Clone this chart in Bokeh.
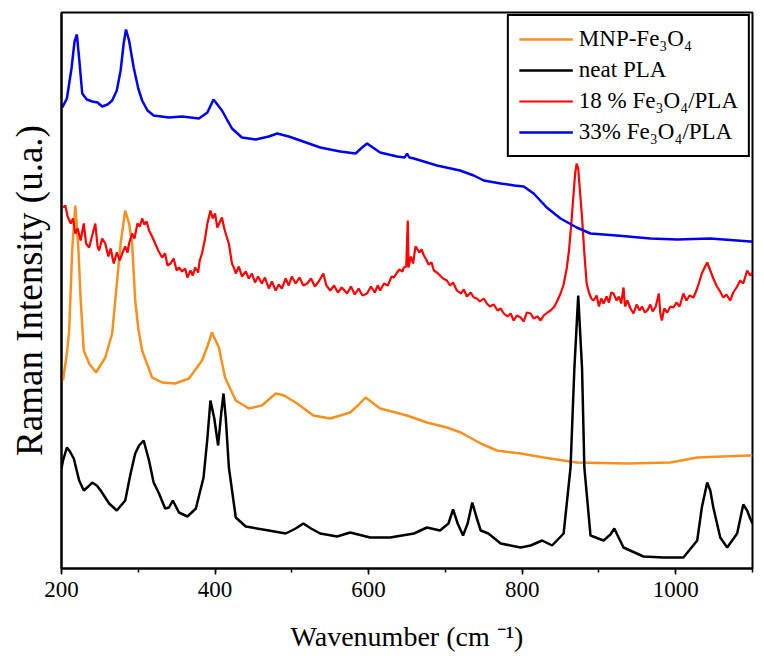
from bokeh.plotting import figure
from bokeh.models import Range1d, SingleIntervalTicker, FixedTicker, Legend, LegendItem
from bokeh.embed import file_html
from bokeh.resources import INLINE

# ---- data (wavenumber in cm-1, Raman intensity in arbitrary units, offset-stacked) ----
mnp_x = [202, 207, 210, 214, 218, 222, 225, 229, 236, 245, 257, 266, 270, 277, 283, 288, 292,
         296, 300, 305, 318, 331, 348, 366, 383, 390, 396, 405, 413, 427, 444, 461, 479, 490,
         507, 528, 550, 576, 586, 596, 615, 650, 676, 702, 720, 746, 767, 798, 828, 871, 937,
         993, 1028, 1060, 1097, 1100]
mnp_y = [188, 215, 238, 320, 363, 320, 268, 218, 205, 196, 211, 235, 268, 325, 358, 345, 325,
         268, 240, 218, 191, 186, 185, 190, 208, 222, 236, 221, 191, 168, 160, 163, 175, 173,
         165, 153, 150, 156, 163, 171, 160, 153, 146, 141, 136, 125, 118, 115, 111, 106, 105,
         106, 111, 112, 113, 113]

pla_x = [200, 202, 207, 211, 216, 223, 229, 235, 240, 246, 251, 262, 272, 283, 290, 296, 301,
         307, 314, 320, 327, 335, 340, 345, 353, 364, 375, 385, 390, 394, 399, 404, 408, 411,
         414, 418, 427, 440, 470, 492, 505, 515, 525, 537, 559, 576, 602, 628, 659, 676, 693,
         704, 710, 716, 723, 729, 735, 741, 746, 756, 772, 798, 811, 826, 839, 854, 863, 868,
         873, 878, 881, 889, 906, 915, 920, 925, 932, 958, 984, 1010, 1028, 1034, 1041, 1045,
         1049, 1058, 1067, 1080, 1088, 1093, 1097, 1100]
pla_y = [100, 108, 121, 117, 110, 88, 78, 82, 86, 83, 78, 65, 58, 68, 95, 115, 123,
         128, 108, 86, 75, 60, 61, 68, 56, 52, 60, 91, 130, 168, 150, 123, 155, 175,
         150, 101, 51, 42, 38, 35, 40, 45, 40, 35, 32, 36, 31, 31, 35, 41, 38,
         45, 59, 45, 33, 45, 66, 50, 38, 35, 25, 21, 23, 28, 23, 35, 101, 200,
         273, 200, 101, 33, 28, 34, 40, 32, 21, 12, 11, 11, 28, 61, 86, 78,
         61, 31, 21, 35, 64, 58, 50, 45]

f18_x = [202, 205, 208, 212, 215, 218, 221, 225, 229, 232, 236, 240, 244, 247, 249, 253, 257,
         261, 264, 268, 272, 276, 279, 283, 286, 288, 292, 295, 299, 302, 305, 308, 311, 314,
         318, 322, 326, 331, 335, 338, 342, 346, 350, 353, 357, 361, 364, 368, 371, 374, 378,
         380, 383, 387, 390, 394, 397, 400, 403, 406, 409, 412, 415, 418, 422, 425, 427, 431,
         435, 440, 444, 448, 452, 456, 461, 465, 470, 474, 479, 483, 487, 492, 496, 500, 505,
         510, 515, 520, 525, 530, 535, 541, 545, 550, 555, 560, 565, 572, 577, 582, 587, 592,
         598, 603, 608, 612, 615, 620, 625, 630, 633, 637, 640, 644, 646, 649, 651, 652, 655,
         658, 661, 663, 666, 669, 672, 675, 678, 682, 685, 689, 693, 697, 702, 706, 710, 715,
         720, 724, 728, 733, 737, 741, 745, 750, 754, 758, 763, 768, 772, 776, 781, 785, 789,
         793, 798, 802, 806, 811, 815, 820, 824, 828, 833, 837, 842, 846, 850, 854, 858, 861,
         864, 867, 869, 871, 873, 875, 878, 881, 884, 887, 890, 893, 897, 900, 903, 906, 910,
         913, 916, 919, 923, 926, 929, 932, 934, 937, 941, 945, 949, 953, 956, 960, 963, 967,
         970, 974, 978, 980, 982, 985, 989, 993, 997, 1001, 1005, 1010, 1014, 1018, 1023, 1027,
         1030, 1034, 1037, 1041, 1045, 1049, 1053, 1057, 1062, 1066, 1071, 1075, 1080, 1084,
         1088, 1093, 1097, 1100]
f18_y = [361, 363, 352, 345, 350, 335, 340, 328, 345, 325, 321, 333, 345, 322, 318, 330, 325,
         312, 320, 305, 316, 308, 315, 322, 316, 325, 335, 330, 345, 342, 350, 344, 347, 338,
         332, 325, 318, 311, 315, 303, 305, 310, 298, 301, 297, 300, 291, 298, 293, 301, 296,
         308, 315, 330, 345, 358, 350, 355, 341, 346, 351, 340, 332, 325, 305, 300, 295, 302,
         292, 297, 290, 295, 286, 292, 285, 291, 280, 287, 278, 284, 280, 290, 283, 292, 285,
         291, 283, 285, 290, 282, 287, 295, 283, 278, 283, 276, 281, 275, 282, 274, 280, 273,
         275, 282, 276, 283, 278, 285, 283, 292, 291, 296, 299, 297, 301, 302, 348, 301, 312,
         305, 322, 320, 316, 319, 313, 309, 304, 306, 298, 296, 293, 290, 288, 283, 286, 278,
         275, 279, 272, 276, 271, 270, 267, 270, 265, 262, 264, 258, 260, 255, 252, 255, 248,
         253, 251, 247, 256, 255, 250, 252, 248, 253, 256, 258, 262, 268, 275, 284, 300, 318,
         345, 375, 395, 405, 400, 380, 351, 315, 285, 276, 270, 268, 273, 262, 270, 265, 272,
         266, 276, 275, 268, 272, 265, 281, 262, 268, 260, 255, 264, 258, 262, 256, 258, 264,
         257, 262, 275, 255, 248, 260, 256, 262, 261, 266, 262, 275, 268, 273, 271, 278,
         285, 295, 300, 306, 298, 290, 283, 278, 271, 274, 268, 276, 282, 288,
         285, 298, 293, 296]

f33_x = [201, 207, 213, 217, 220, 223, 227, 233, 240, 247, 253, 260, 266, 272, 277, 281, 284,
         288, 294, 300, 305, 312, 320, 340, 357, 379, 390, 398, 409, 422, 435, 453, 470, 481,
         496, 511, 537, 563, 583, 590, 598, 615, 637, 647, 650, 653, 659, 689, 719, 737, 750,
         772, 790, 802, 815, 832, 850, 871, 889, 923, 967, 1002, 1045, 1097, 1100]
f33_y = [461, 470, 500, 527, 534, 510, 475, 469, 467, 466, 462, 464, 468, 478, 498, 525, 539,
         528, 501, 480, 468, 458, 453, 451, 452, 450, 456, 469, 458, 440, 431, 429, 432, 435,
         432, 428, 421, 417, 415, 420, 425, 416, 412, 411, 415, 411, 410, 403, 398, 393, 388,
         385, 383, 382, 375, 361, 350, 341, 335, 333, 330, 329, 330, 327, 327]

x_ticks_interval = 200
labels = ["MNP-Fe\u2083O\u2084", "neat PLA", "18 % Fe\u2083O\u2084/PLA", "33% Fe\u2083O\u2084/PLA"]
colors = ["#F7901E", "#000000", "#FF0000", "#0000EE"]

SERIF = "Liberation Serif"

p = figure(width=755, height=668, output_backend="svg", toolbar_location=None,
           x_range=Range1d(200, 1100), y_range=Range1d(0, 556),
           min_border_left=61, min_border_top=12, min_border_right=3, min_border_bottom=100)
p.background_fill_color = "white"
p.border_fill_color = "white"
p.grid.visible = False
p.outline_line_color = "black"
p.outline_line_width = 2

r_mnp = p.line(mnp_x, mnp_y, line_color=colors[0], line_width=2.5)
r_pla = p.line(pla_x, pla_y, line_color=colors[1], line_width=2.5)
r_18 = p.line(f18_x, f18_y, line_color=colors[2], line_width=2.2)
r_33 = p.line(f33_x, f33_y, line_color=colors[3], line_width=2.5)

xa = p.xaxis[0]
xa.ticker = SingleIntervalTicker(interval=x_ticks_interval, num_minor_ticks=2)
xa.axis_line_width = 2
xa.major_tick_line_width = 1.5
xa.minor_tick_line_width = 1.5
xa.major_tick_out = 6
xa.major_tick_in = 0
xa.minor_tick_out = 4
xa.minor_tick_in = 0
xa.major_label_text_font = SERIF
xa.major_label_text_font_size = "23px"
xa.major_label_text_color = "black"
xa.major_label_standoff = 7
xa.axis_label = "Wavenumber (cm \u207B\u00B9)"
xa.axis_label_text_font = SERIF
xa.axis_label_text_font_size = "28px"
xa.axis_label_text_font_style = "normal"
xa.axis_label_text_color = "black"
xa.axis_label_standoff = 21

ya = p.yaxis[0]
ya.ticker = FixedTicker(ticks=[])
ya.axis_line_width = 2
ya.major_tick_line_color = None
ya.minor_tick_line_color = None
ya.major_label_text_color = None
ya.axis_label = "Raman Intensity (u.a.)"
ya.axis_label_text_font = SERIF
ya.axis_label_text_font_size = "37px"
ya.axis_label_text_font_style = "normal"
ya.axis_label_text_color = "black"
ya.axis_label_standoff = 12

legend = Legend(items=[LegendItem(label=labels[0], renderers=[r_mnp]),
                       LegendItem(label=labels[1], renderers=[r_pla]),
                       LegendItem(label=labels[2], renderers=[r_18]),
                       LegendItem(label=labels[3], renderers=[r_33])],
                location="top_right", margin=2, padding=10, spacing=5,
                glyph_width=54, glyph_height=26, label_height=26, label_standoff=6,
                label_text_font=SERIF, label_text_font_size="23px", label_text_color="black",
                border_line_color="black", border_line_width=2, border_line_alpha=1.0,
                background_fill_color="white", background_fill_alpha=1.0)
p.add_layout(legend)

open("out.html", "w").write(file_html(p, INLINE))
